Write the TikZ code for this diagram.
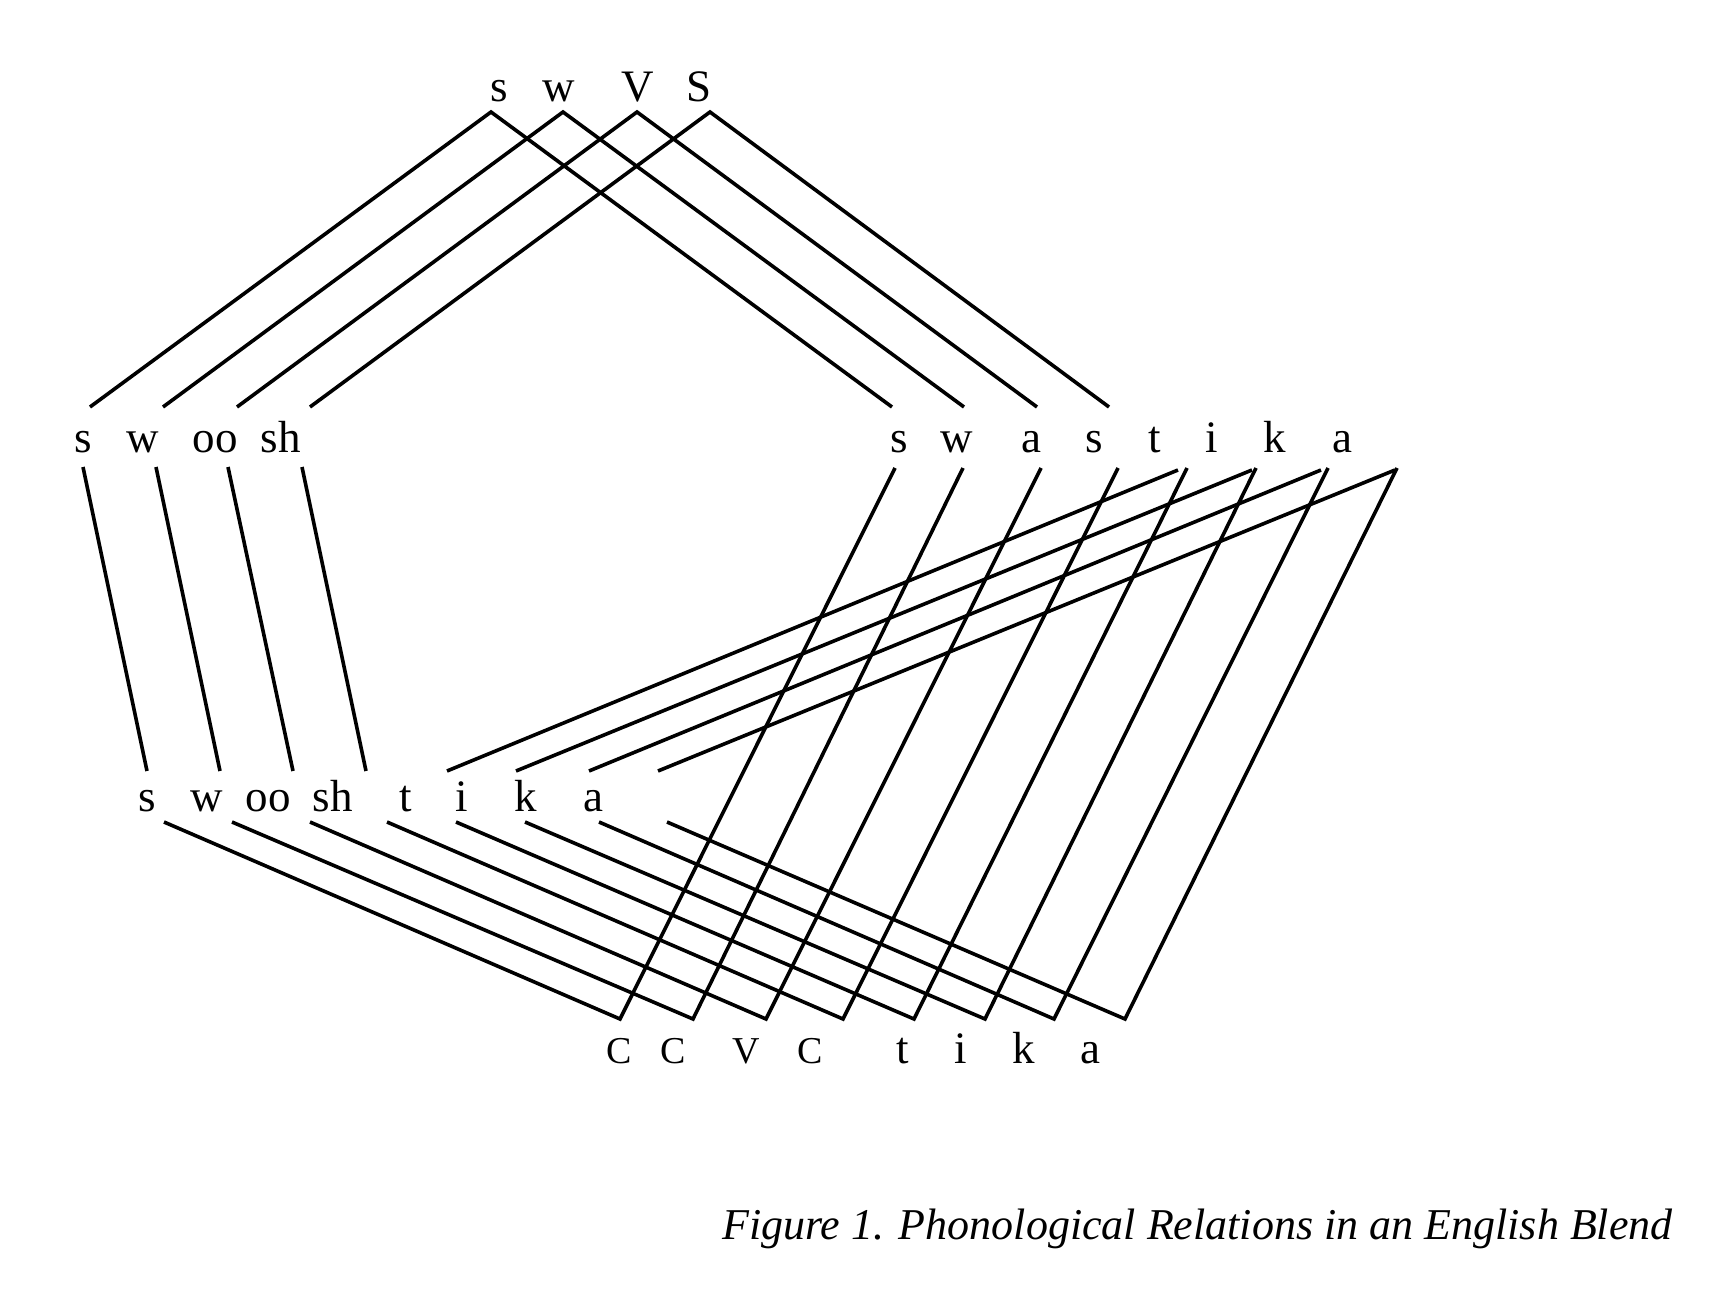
\documentclass[tikz,border=0pt]{standalone}
\usepackage{fontspec}
\setmainfont{Liberation Serif}
\begin{document}
\tikzset{
  lbl/.style={anchor=base, font=\fontsize{45}{54}\selectfont, inner sep=0pt},
  smallcap/.style={anchor=base, font=\fontsize{38}{46}\selectfont, inner sep=0pt},
  link/.style={line width=3.6pt, black},
  caption/.style={anchor=base west, font=\fontsize{44}{52}\selectfont\itshape, inner sep=0pt},
}
\begin{tikzpicture}[x=1pt,y=-1pt]
\useasboundingbox (0,0) rectangle (1730,1292);
% top labels
\node[lbl] (t1) at (499,102) {s};
\node[lbl] (t2) at (559,102) {w};
\node[lbl] (t3) at (638,102) {V};
\node[lbl] (t4) at (699,102) {S};
% swoosh
\foreach \n/\x/\t in {1/83/s, 2/143/w, 3/215/oo, 4/281/sh}
  \node[lbl] (sw\n) at (\x,452) {\t};
% swastika
\foreach \n/\x/\t in {1/899/s, 2/957/w, 3/1031/a, 4/1094/s, 5/1155/t, 6/1212/i, 7/1275/k, 8/1342/a}
  \node[lbl] (sa\n) at (\x,452) {\t};
% swooshtika
\foreach \n/\x/\t in {1/147/s, 2/207/w, 3/268/oo, 4/333/sh, 5/406/t, 6/462/i, 7/526/k, 8/593/a}
  \node[lbl] (st\n) at (\x,811) {\t};
% CCVC tika
\foreach \n/\x/\t in {1/619/C, 2/673/C, 3/746/V, 4/810/C}
  \node[smallcap] (cv\n) at (\x,1063) {\t};
\foreach \n/\x/\t in {5/903/t, 6/961/i, 7/1024/k, 8/1090/a}
  \node[lbl] (cv\n) at (\x,1063) {\t};
% caption
\node[caption] (cap) at (722,1239) {Figure 1. Phonological Relations in an English Blend};

% top apex lines
\foreach \i/\ax/\lx/\rx in {1/491/90/892, 2/563/163/964, 3/637/237/1037, 4/710/310/1109} {
  \coordinate (ap\i) at (\ax,112);
  \coordinate (apl\i) at (\lx,407);
  \coordinate (apr\i) at (\rx,407);
  \draw[link] (apl\i) -- (ap\i) -- (apr\i);
}
% swoosh -> swooshtika
\foreach \i/\a/\b in {1/83/147, 2/156/220, 3/228/293, 4/302/366} {
  \coordinate (ws\i) at (\a,467);
  \coordinate (wb\i) at (\b,771);
  \draw[link] (ws\i) -- (wb\i);
}
% swooshtika -> CCVC tika <- swastika
\foreach \i/\a/\v/\b in {1/164/620/895, 2/232/693/963, 3/310/766/1041, 4/387/843/1118,
                        5/456/914/1187, 6/525/985/1256, 7/599/1054/1328, 8/667/1125/1397} {
  \coordinate (ls\i) at (\a,822);
  \coordinate (bv\i) at (\v,1019);
  \coordinate (sat\i) at (\b,468);
  \draw[link] (ls\i) -- (bv\i) -- (sat\i);
}
% swastika tika -> swooshtika tika
\foreach \i/\a/\b in {1/1178/447, 2/1252/516, 3/1321/589, 4/1395/658} {
  \coordinate (sh\i) at (\a,470);
  \coordinate (shb\i) at (\b,771);
  \draw[link] (sh\i) -- (shb\i);
}
\end{tikzpicture}
\end{document}
